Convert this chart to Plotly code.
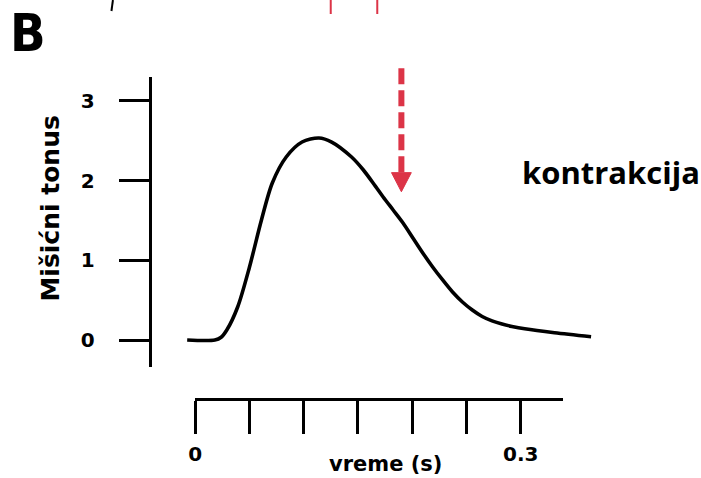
import plotly.graph_objects as go

# ---------------- data ----------------
time_s = [-0.0073, 0.0182, 0.0240, 0.0292, 0.0392, 0.0501, 0.0611, 0.0711, 0.0839, 0.0985,
          0.1140, 0.1258, 0.1441, 0.1550, 0.1660, 0.1732, 0.1824, 0.1915, 0.2006,
          0.2097, 0.2188, 0.2280, 0.2371, 0.2462, 0.2553, 0.2644, 0.2735, 0.2827,
          0.2918, 0.3036, 0.3310, 0.3647]
tonus = [0.0, 0.0, 0.035, 0.125, 0.414, 0.916, 1.506, 1.970, 2.296, 2.484,
         2.535, 2.484, 2.296, 2.133, 1.930, 1.794, 1.631, 1.468, 1.280,
         1.092, 0.916, 0.753, 0.602, 0.477, 0.376, 0.295, 0.240, 0.200,
         0.170, 0.140, 0.090, 0.040]

y_ticks = [0, 1, 2, 3]
x_ticks = [0, 0.05, 0.10, 0.15, 0.20, 0.25, 0.30]
x_tick_labels = ["0", "", "", "", "", "", "0.3"]

arrow_t = 0.190          # time position of the red arrow
arrow_top = 3.41         # top of the dashed shaft (tonus units)
arrow_base = 2.10        # base of arrow head
arrow_tip = 1.86         # tip of arrow head

y_title = "Mišićni tonus"
x_title = "vreme (s)"
label_text = "kontrakcija"
panel_letter = "B"

# ---------------- geometry (pixels) ----------------
W, H = 701, 478
PX_T0, PX_PER_S = 190.0, 1096.7      # x pixel of t=0, pixels per second
PY_Y0, PX_PER_UNIT = 340.0, 79.7     # y pixel of tonus=0, pixels per unit

def t_at(px):
    return (px - PX_T0) / PX_PER_S

def v_at(py):
    return (PY_Y0 - py) / PX_PER_UNIT

RED = "#dc3447"
BOLD_WIDE = "DejaVu Sans"

fig = go.Figure()

# curve on the full-page invisible axes
fig.add_trace(go.Scatter(
    x=time_s, y=tonus, mode="lines",
    line=dict(color="black", width=3.6, shape="spline", smoothing=0.85),
    hoverinfo="skip", showlegend=False, xaxis="x", yaxis="y"))

# helper trace so the visible axes are drawn
fig.add_trace(go.Scatter(
    x=[x_ticks[0], x_ticks[-1]], y=[y_ticks[0], y_ticks[0]], mode="lines",
    line=dict(width=0), opacity=0, hoverinfo="skip", showlegend=False,
    xaxis="x2", yaxis="y2"))

fig.update_layout(
    width=W, height=H,
    margin=dict(l=0, r=0, t=0, b=0),
    paper_bgcolor="white", plot_bgcolor="rgba(0,0,0,0)",
    xaxis=dict(domain=[0, 1], range=[t_at(0), t_at(W)], visible=False, fixedrange=True),
    yaxis=dict(domain=[0, 1], range=[v_at(H), v_at(0)], visible=False, fixedrange=True),
    xaxis2=dict(
        domain=[PX_T0 / W, 562 / W], anchor="free", position=1 - 399 / H,
        range=[0, t_at(562)], showline=True, linecolor="black", linewidth=2.6,
        ticks="outside", ticklen=33, tickwidth=2.6, tickcolor="black",
        tickvals=x_ticks, ticktext=x_tick_labels, showgrid=False, zeroline=False,
        tickfont=dict(family=BOLD_WIDE, size=20, color="black", weight=700),
        ticklabelstandoff=3, fixedrange=True),
    yaxis2=dict(
        domain=[1 - 367 / H, 1 - 77 / H], anchor="free", position=144 / W, side="left",
        range=[v_at(367), v_at(77)], showline=True, linecolor="black", linewidth=2.6,
        ticks="outside", ticklen=30, tickwidth=2.6, tickcolor="black",
        tickvals=y_ticks, showgrid=False, zeroline=False,
        tickfont=dict(family=BOLD_WIDE, size=20, color="black", weight=700),
        ticklabelstandoff=20, fixedrange=True),
)

# red dashed arrow (shaft + head) in data coordinates
half_w = 10 / PX_PER_S
fig.add_shape(type="line", xref="x", yref="y",
              x0=arrow_t, x1=arrow_t, y0=arrow_top, y1=arrow_base,
              line=dict(color=RED, width=6, dash="16px,6px"))
fig.add_shape(type="path", xref="x", yref="y",
              path=f"M {arrow_t - half_w} {arrow_base} L {arrow_t + half_w} {arrow_base} "
                   f"L {arrow_t} {arrow_tip} Z",
              fillcolor=RED, line=dict(color=RED, width=1))

# fragments of panel A above (paper pixels)
def paper_line(x0, y0, x1, y1, color, width):
    fig.add_shape(type="line", xref="paper", yref="paper",
                  x0=x0 / W, x1=x1 / W, y0=1 - y0 / H, y1=1 - y1 / H,
                  line=dict(color=color, width=width))

paper_line(107, 0, 105.5, 11, "black", 2)
paper_line(327, 0, 327, 14, RED, 2)
paper_line(374, 0, 374, 14, RED, 2)

# texts
def text_at(px, py, txt, family, size, weight, angle=0):
    fig.add_annotation(x=px / W, y=1 - py / H, xref="paper", yref="paper",
                       xanchor="center", yanchor="middle", text=txt, textangle=angle,
                       showarrow=False,
                       font=dict(family=family, size=size, color="black", weight=weight))

text_at(21, 33, panel_letter, "DejaVu Sans Condensed, DejaVu Sans", 52, 700)
text_at(43, 209, y_title, BOLD_WIDE, 25, 700, angle=-90)
text_at(382, 464, x_title, BOLD_WIDE, 21, 700)
text_at(610, 172, label_text, "Open Sans", 31, 700)

fig.write_html("out.html", config={"displayModeBar": False},
               post_script="document.body.style.margin='0';")
